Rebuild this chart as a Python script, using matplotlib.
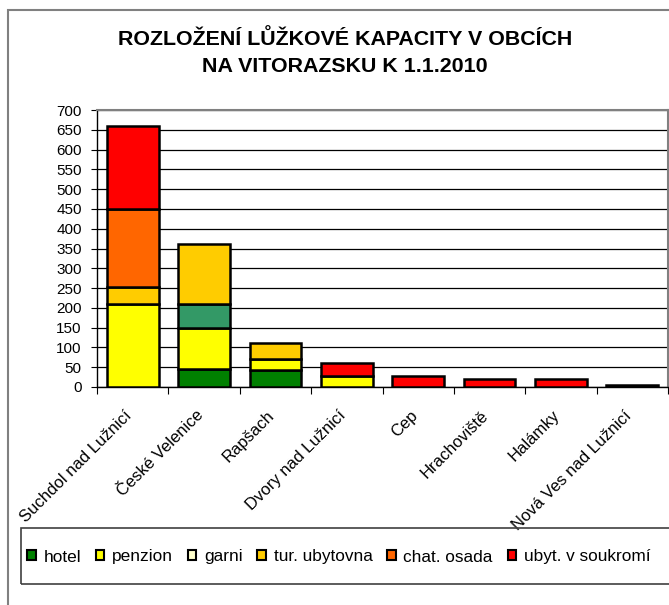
import numpy as np
import matplotlib
matplotlib.use("Agg")
import matplotlib.pyplot as plt
from matplotlib.patches import Rectangle, Patch

plt.rcParams['font.family'] = ['Liberation Sans', 'DejaVu Sans']

obce = ['Suchdol nad Lužnicí', 'České Velenice', 'Rapšach', 'Dvory nad Lužnicí',
        'Cep', 'Hrachoviště', 'Halámky', 'Nová Ves nad Lužnicí']
hotel = [0, 45, 42, 0, 0, 0, 0, 0]
penzion = [210, 105, 28, 28, 0, 0, 0, 0]
garni = [0, 60, 0, 0, 0, 0, 0, 0]
tur_ubytovna = [42, 152, 40, 0, 0, 0, 0, 0]
chat_osada = [198, 0, 0, 0, 0, 0, 0, 0]
ubyt_soukromi = [210, 0, 0, 32, 27, 21, 20, 5]

series = [
    ('hotel', hotel, '#008000', '#008000'),
    ('penzion', penzion, '#FFFF00', '#FFFF00'),
    ('garni', garni, '#339966', '#FFFFCC'),
    ('tur. ubytovna', tur_ubytovna, '#FFCC00', '#FFCC00'),
    ('chat. osada', chat_osada, '#FF6600', '#FF6600'),
    ('ubyt. v soukromí', ubyt_soukromi, '#FF0000', '#FF0000'),
]

W, H = 669, 605
fig = plt.figure(figsize=(W / 100, H / 100), dpi=100)

# outer chart frame (cut off on right and bottom)
fig.patches.append(Rectangle((8 / W, -0.1), 2, 1.1 - 10 / H, transform=fig.transFigure,
                             fill=False, edgecolor='#808080', lw=1.5))
# legend frame
fig.patches.append(Rectangle((21 / W, 1 - 584 / H), 2, 56 / H, transform=fig.transFigure,
                             fill=False, edgecolor='#404040', lw=1.2))

ax = fig.add_axes([97 / W, 1 - 387 / H, 571 / W, 277 / H])
x = np.arange(len(obce))
bottom = np.zeros(len(obce))
for name, vals, col, _ in series:
    vals = np.array(vals, dtype=float)
    mask = vals > 0
    ax.bar(x[mask], vals[mask], 0.725, bottom=bottom[mask], color=col,
           edgecolor='black', linewidth=1.8, zorder=3)
    bottom += vals

ax.set_xlim(-0.5, len(obce) - 0.5)
ax.set_ylim(0, 700)
ax.set_yticks(np.arange(0, 701, 50))
ax.yaxis.grid(True, color='black', linewidth=0.9, zorder=0)
ax.tick_params(axis='y', direction='out', length=4, labelsize=11, pad=7)
ax.set_xticks(np.arange(len(obce) + 1) - 0.5)
ax.set_xticklabels([])
ax.tick_params(axis='x', direction='out', length=5)

for side in ['top', 'right']:
    ax.spines[side].set_color('#808080')
    ax.spines[side].set_linewidth(1.5)
for side in ['left', 'bottom']:
    ax.spines[side].set_color('black')
    ax.spines[side].set_linewidth(1.0)

for xi, name in zip(x, obce):
    ax.text(xi - 0.12, -0.075, name, transform=ax.get_xaxis_transform(), rotation=45,
            rotation_mode='anchor', ha='right', va='top', fontsize=12)

fig.text(345 / W, 1 - 39 / H, 'ROZLOŽENÍ LŮŽKOVÉ KAPACITY V OBCÍCH', ha='center',
         va='center', fontsize=15.4, fontweight='bold')
fig.text(345 / W, 1 - 67 / H, 'NA VITORAZSKU K 1.1.2010', ha='center',
         va='center', fontsize=15.4, fontweight='bold')

handles = [Patch(facecolor=lc, edgecolor='black', linewidth=1.5, label=n)
           for n, _, _, lc in series]
fig.legend(handles=handles, loc='center left', bbox_to_anchor=(27 / W, 1 - 557 / H),
           ncol=6, frameon=False, fontsize=12.4, handlelength=0.5, handleheight=0.5,
           handletextpad=0.45, columnspacing=0.85, borderaxespad=0, borderpad=0)

fig.savefig('out.png', dpi=100)
